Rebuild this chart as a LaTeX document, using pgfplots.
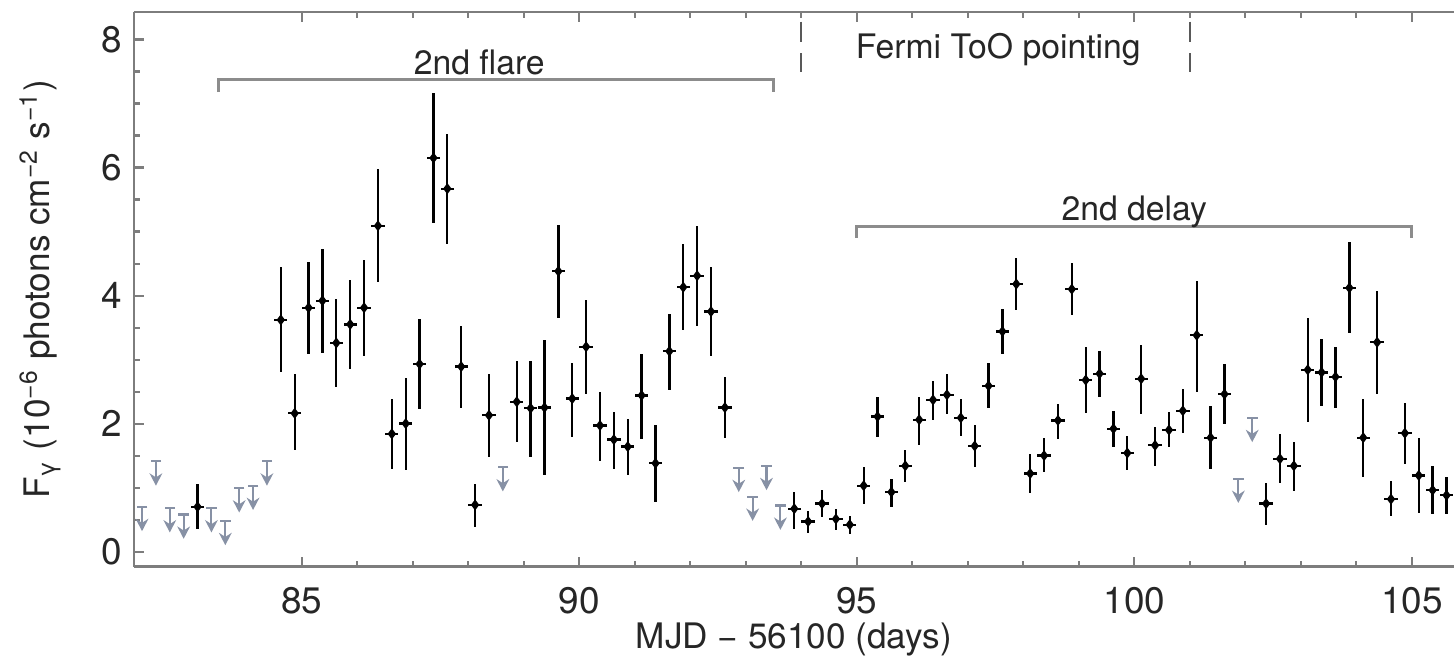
\documentclass[border=0pt]{standalone}
\usepackage{fontspec}
\setmainfont{TeX Gyre Heros}
\usepackage{pgfplots}
\pgfplotsset{compat=1.18}
\usepackage{pgfplotstable}
\usetikzlibrary{arrows.meta}

\definecolor{ulgray}{RGB}{135,145,165}
\definecolor{framegray}{RGB}{125,125,125}
\definecolor{brackgray}{RGB}{140,140,140}

% detections: bin centre, flux, upper and lower error
\pgfplotstableread{
x       y     ep    em
83.125  0.70  0.36  0.35
84.625  3.62  0.82  0.82
84.875  2.16  0.61  0.58
85.125  3.81  0.72  0.72
85.375  3.92  0.81  0.82
85.625  3.26  0.68  0.69
85.875  3.55  0.69  0.69
86.125  3.81  0.75  0.75
86.375  5.09  0.89  0.88
86.625  1.84  0.55  0.55
86.875  2.00  0.72  0.72
87.125  2.93  0.71  0.70
87.375  6.15  1.01  1.02
87.625  5.67  0.86  0.86
87.875  2.89  0.64  0.65
88.125  0.73  0.33  0.34
88.375  2.13  0.64  0.65
88.875  2.34  0.64  0.63
89.125  2.24  0.73  0.76
89.375  2.25  1.05  1.05
89.625  4.38  0.73  0.73
89.875  2.39  0.55  0.60
90.125  3.20  0.73  0.73
90.375  1.97  0.53  0.55
90.625  1.75  0.43  0.46
90.875  1.64  0.43  0.44
91.125  2.44  0.65  0.68
91.375  1.38  0.60  0.61
91.625  3.13  0.58  0.61
91.875  4.13  0.68  0.67
92.125  4.31  0.78  0.79
92.375  3.75  0.70  0.70
92.625  2.25  0.48  0.47
93.875  0.67  0.26  0.32
94.125  0.47  0.17  0.18
94.375  0.75  0.21  0.21
94.625  0.51  0.16  0.18
94.875  0.42  0.14  0.14
95.125  1.03  0.29  0.28
95.375  2.11  0.30  0.32
95.625  0.93  0.21  0.23
95.875  1.34  0.24  0.26
96.125  2.06  0.36  0.40
96.375  2.37  0.30  0.32
96.625  2.45  0.32  0.30
96.875  2.09  0.30  0.29
97.125  1.65  0.33  0.33
97.375  2.59  0.35  0.35
97.625  3.44  0.35  0.35
97.875  4.18  0.41  0.41
98.125  1.22  0.31  0.31
98.375  1.50  0.28  0.26
98.625  2.05  0.26  0.29
98.875  4.10  0.41  0.41
99.125  2.68  0.52  0.52
99.375  2.78  0.35  0.37
99.625  1.92  0.27  0.28
99.875  1.54  0.27  0.27
100.125 2.70  0.52  0.55
100.375 1.66  0.28  0.32
100.625 1.90  0.28  0.27
100.875 2.20  0.34  0.34
101.125 3.38  0.85  0.88
101.375 1.78  0.49  0.49
101.625 2.46  0.47  0.46
102.375 0.75  0.32  0.34
102.625 1.45  0.38  0.38
102.875 1.34  0.38  0.39
103.125 2.84  0.81  0.82
103.375 2.80  0.52  0.53
103.625 2.73  0.47  0.48
103.875 4.12  0.71  0.71
104.125 1.78  0.61  0.62
104.375 3.27  0.80  0.80
104.625 0.82  0.28  0.27
104.875 1.85  0.47  0.48
105.125 1.19  0.59  0.58
105.375 0.96  0.37  0.38
105.625 0.88  0.28  0.30
}\detections

% upper limits
\pgfplotstableread{
x       y
82.125  0.70
82.375  1.41
82.625  0.68
82.875  0.58
83.375  0.68
83.625  0.48
83.875  0.99
84.125  1.03
84.375  1.41
88.625  1.32
92.875  1.31
93.125  0.86
93.375  1.34
93.625  0.72
101.875 1.14
102.125 2.09
}\upperlimits

\begin{document}
\begin{tikzpicture}
\begin{axis}[
    scale only axis, width=13.2cm, height=5.55cm,
    xmin=81.98, xmax=105.76, ymin=-0.24, ymax=8.43,
    axis y line*=left,
    xtick={85,90,95,100,105}, minor x tick num=4,
    ytick={0,2,4,6,8}, minor y tick num=3,
    tick align=inside, major tick length=0.1cm, minor tick length=0.06cm,
    axis line style={framegray, line width=0.85pt},
    tick style={framegray, line width=0.6pt},
    /pgf/number format/assume math mode=true,
    tick label style={font=\fontsize{10.5}{12}\selectfont, text=black!85},
    xticklabel style={yshift=-0.08cm},
    xlabel={MJD − 56100 (days)},
    ylabel={F\textsubscript{γ} (10\textsuperscript{−6} photons cm\textsuperscript{−2} s\textsuperscript{−1})},
    label style={font=\fontsize{10}{12}\selectfont, text=black!85},
    xlabel style={at={(axis description cs:0.5,-0.1315)}, anchor=center},
    ylabel style={at={(axis description cs:-0.0712,0.5)}, anchor=center},
]
\addplot[black, only marks, mark=diamond*, mark size=1.25pt,
    error bars/.cd, x dir=both, x fixed=0.12, y dir=both, y explicit,
    error mark=none, error bar style={line width=0.65pt, black}]
    table[x=x, y=y, y error plus=ep, y error minus=em] {\detections};
\addplot[ulgray, only marks, mark=-, mark size=1.5pt, mark options={line width=0.6pt}]
    table[x=x, y=y] {\upperlimits};
\addplot[ulgray, no markers, line width=0.6pt, -{Stealth[length=3.5pt, width=3.6pt]},
    quiver={u=0, v=-0.38}]
    table[x=x, y=y] {\upperlimits};

\draw[brackgray, line width=0.85pt] (axis cs:83.5,7.18) -- (axis cs:83.5,7.37)
    -- (axis cs:93.5,7.37) -- (axis cs:93.5,7.18);
\node[font=\fontsize{9.6}{11}\selectfont, text=black!85, anchor=base] at (axis cs:88.2,7.45) {2nd flare};
\draw[brackgray, line width=0.85pt] (axis cs:95,4.90) -- (axis cs:95,5.08)
    -- (axis cs:105,5.08) -- (axis cs:105,4.90);
\node[font=\fontsize{9.6}{11}\selectfont, text=black!85, anchor=base] at (axis cs:100,5.18) {2nd delay};
\draw[black!65, line width=0.6pt, dash pattern=on 5.7pt off 3.3pt] (axis cs:94,8.28) -- (axis cs:94,7.50);
\draw[black!65, line width=0.6pt, dash pattern=on 5.7pt off 3.3pt] (axis cs:101,8.28) -- (axis cs:101,7.50);
\node[font=\fontsize{9.6}{11}\selectfont, text=black!85, anchor=base] at (axis cs:97.55,7.71) {Fermi ToO pointing};
\end{axis}
\pgfresetboundingbox
\path ([xshift=-1.34cm,yshift=-0.93cm]current axis.south west) rectangle ([yshift=0.12cm]current axis.north east);
\end{tikzpicture}
\end{document}
